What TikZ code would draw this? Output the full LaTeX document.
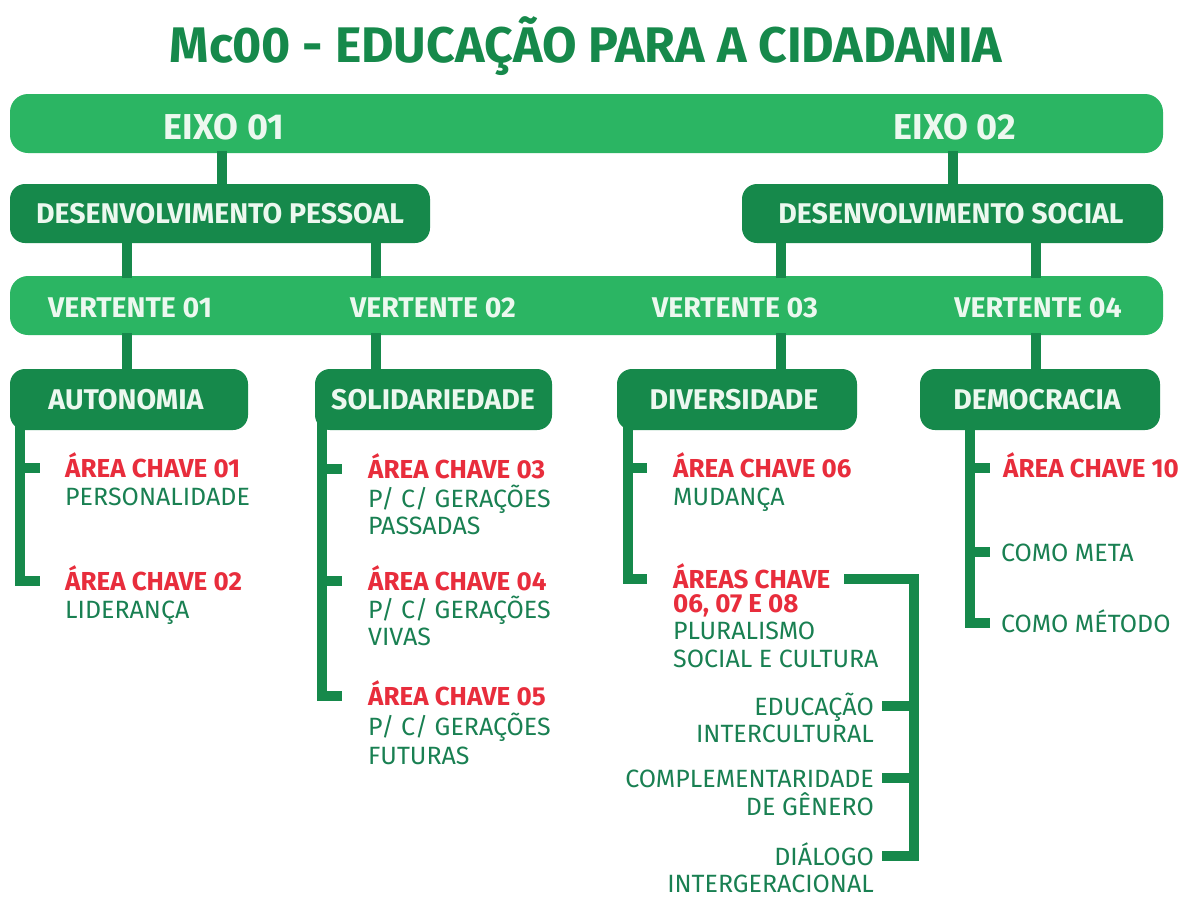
\documentclass[tikz,border=0pt]{standalone}
\usepackage{fontspec}
\setmainfont{Fira Sans}
\definecolor{lightg}{RGB}{43,181,99}
\definecolor{darkg}{RGB}{22,137,75}
\definecolor{redc}{RGB}{232,45,60}
\definecolor{bodyg}{RGB}{25,128,82}
\definecolor{boxtext}{RGB}{236,248,239}
\tikzset{
  bar/.style={fill=lightg, rounded corners=18pt, inner sep=0pt, minimum height=59pt},
  dbox/.style={fill=darkg, rounded corners=15pt, inner sep=0pt},
  conn/.style={draw=darkg, line width=10pt, shorten <=-2pt, shorten >=-2pt},
  tree/.style={draw=darkg, line width=10pt},
  lab/.style={text=boxtext, inner sep=0pt, font=\bfseries\fontsize{28.5}{32}\selectfont},
  hd/.style={text=redc, inner sep=0pt, anchor=base west, font=\bfseries\fontsize{26}{30}\selectfont},
  bd/.style={text=bodyg, inner sep=0pt, anchor=base west, font=\fontsize{25}{29}\selectfont},
  bdr/.style={bd, anchor=base east},
}
\begin{document}
\begin{tikzpicture}[x=1pt,y=-1pt]
\useasboundingbox[fill=white] (0,0) rectangle (1180,898);

% title
\node[text=darkg, inner sep=0pt, anchor=base, font=\bfseries\fontsize{50}{56}\selectfont] (title) at (586,62) {Mc00 - EDUCAÇÃO PARA A CIDADANIA};

% column coordinates
\coordinate (cA) at (222,0);
\coordinate (cB) at (953,0);
\coordinate (c1) at (127,0);
\coordinate (c2) at (376,0);
\coordinate (c3) at (781,0);
\coordinate (c4) at (1036,0);
\coordinate (t1) at (20,0);
\coordinate (t2) at (322,0);
\coordinate (t3) at (628,0);
\coordinate (t4) at (970,0);
\coordinate (br) at (914,0);

% bars and boxes
\node[bar, minimum width=1153pt] (eixo) at (586.5,123.5) {};
\node[lab, font=\bfseries\fontsize{36}{40}\selectfont] (e1) at (224,127) {EIXO 01};
\node[lab, font=\bfseries\fontsize{36}{40}\selectfont] (e2) at (955,127) {EIXO 02};

\node[dbox, minimum width=420pt, minimum height=59pt] (dp) at (220,213.5) {};
\node[lab] (dpl) at (220,214) {DESENVOLVIMENTO PESSOAL};
\node[dbox, minimum width=421pt, minimum height=59pt] (ds) at (952.5,213.5) {};
\node[lab] (dsl) at (951,214) {DESENVOLVIMENTO SOCIAL};

\node[bar, minimum width=1153pt] (vbar) at (586.5,305.5) {};
\node[lab] (v1) at (130,308) {VERTENTE 01};
\node[lab] (v2) at (433,308) {VERTENTE 02};
\node[lab] (v3) at (735,308) {VERTENTE 03};
\node[lab] (v4) at (1038,308) {VERTENTE 04};

\node[dbox, minimum width=238pt, minimum height=61pt] (aut) at (129,399.5) {};
\node[lab] (autl) at (126,400) {AUTONOMIA};
\node[dbox, minimum width=237pt, minimum height=61pt] (sol) at (433.5,399.5) {};
\node[lab] (soll) at (433,400) {SOLIDARIEDADE};
\node[dbox, minimum width=240pt, minimum height=61pt] (div) at (737,399.5) {};
\node[lab] (divl) at (734,400) {DIVERSIDADE};
\node[dbox, minimum width=240pt, minimum height=61pt] (dem) at (1040,399.5) {};
\node[lab] (deml) at (1037,400) {DEMOCRACIA};

% connectors between levels
\draw[conn] (eixo.south -| cA) -- (dp.north -| cA);
\draw[conn] (eixo.south -| cB) -- (ds.north -| cB);
\draw[conn] (dp.south -| c1) -- (vbar.north -| c1);
\draw[conn] (dp.south -| c2) -- (vbar.north -| c2);
\draw[conn] (ds.south -| c3) -- (vbar.north -| c3);
\draw[conn] (ds.south -| c4) -- (vbar.north -| c4);
\draw[conn] (vbar.south -| c1) -- (aut.north -| c1);
\draw[conn] (vbar.south -| c2) -- (sol.north -| c2);
\draw[conn] (vbar.south -| c3) -- (div.north -| c3);
\draw[conn] (vbar.south -| c4) -- (dem.north -| c4);

% column 1 texts
\node[hd] (k1h) at (65,477) {ÁREA CHAVE 01};
\node[bd] (k1s) at (65,505) {PERSONALIDADE};
\node[hd] (k2h) at (65,590) {ÁREA CHAVE 02};
\node[bd] (k2s) at (65,618) {LIDERANÇA};
% column 2 texts
\node[hd] (k3h) at (368,478) {ÁREA CHAVE 03};
\node[bd] (k3a) at (368,507) {P/ C/ GERAÇÕES};
\node[bd] (k3b) at (368,534) {PASSADAS};
\node[hd] (k4h) at (368,590) {ÁREA CHAVE 04};
\node[bd] (k4a) at (368,618) {P/ C/ GERAÇÕES};
\node[bd] (k4b) at (368,645) {VIVAS};
\node[hd] (k5h) at (368,705) {ÁREA CHAVE 05};
\node[bd] (k5a) at (368,735) {P/ C/ GERAÇÕES};
\node[bd] (k5b) at (368,764) {FUTURAS};
% column 3 texts
\node[hd] (k6h) at (673,477) {ÁREA CHAVE 06};
\node[bd] (k6s) at (673,505) {MUDANÇA};
\node[hd] (k7h) at (673,588) {ÁREAS CHAVE};
\node[hd] (k7n) at (673,612) {06, 07 E 08};
\node[bd] (k7a) at (673,639) {PLURALISMO};
\node[bd] (k7b) at (673,667) {SOCIAL E CULTURA};
\node[bdr] (edu) at (874,715) {EDUCAÇÃO};
\node[bdr] (int) at (874,742) {INTERCULTURAL};
\node[bdr] (com) at (874,787) {COMPLEMENTARIDADE};
\node[bdr] (gen) at (874,815) {DE GÊNERO};
\node[bdr] (dia) at (874,865) {DIÁLOGO};
\node[bdr] (ige) at (874,892) {INTERGERACIONAL};
% column 4 texts
\node[hd] (k10) at (1003,477) {ÁREA CHAVE 10};
\node[bd] (meta) at (1001,561) {COMO META};
\node[bd] (meto) at (1001,632) {COMO MÉTODO};

% trees
\draw[tree] ([yshift=10pt]aut.south -| t1) |- ([xshift=-25pt,yshift=9pt]k2h.base west);
\draw[tree] ([yshift=9pt]k1h.base west -| t1) -- ([xshift=-25pt,yshift=9pt]k1h.base west);

\draw[tree] ([yshift=10pt]sol.south -| t2) |- ([xshift=-26pt,yshift=9pt]k5h.base west);
\draw[tree] ([yshift=9pt]k3h.base west -| t2) -- ([xshift=-26pt,yshift=9pt]k3h.base west);
\draw[tree] ([yshift=9pt]k4h.base west -| t2) -- ([xshift=-26pt,yshift=9pt]k4h.base west);

\draw[tree] ([yshift=10pt]div.south -| t3) |- ([xshift=-26pt,yshift=9pt]k7h.base west);
\draw[tree] ([yshift=9pt]k6h.base west -| t3) -- ([xshift=-26pt,yshift=9pt]k6h.base west);

\draw[tree] ([xshift=14pt,yshift=9pt]k7h.base east) -| ([yshift=9pt]dia.base east -| br) -- ([xshift=8pt,yshift=9pt]dia.base east);
\draw[tree] ([yshift=9pt]edu.base east -| br) -- ([xshift=8pt,yshift=9pt]edu.base east);
\draw[tree] ([yshift=9pt]com.base east -| br) -- ([xshift=8pt,yshift=9pt]com.base east);

\draw[tree] ([yshift=10pt]dem.south -| t4) |- ([xshift=-11pt,yshift=9pt]meto.base west);
\draw[tree] ([yshift=9pt]k10.base west -| t4) -- ([xshift=-13pt,yshift=9pt]k10.base west);
\draw[tree] ([yshift=9pt]meta.base west -| t4) -- ([xshift=-11pt,yshift=9pt]meta.base west);
\end{tikzpicture}
\end{document}
